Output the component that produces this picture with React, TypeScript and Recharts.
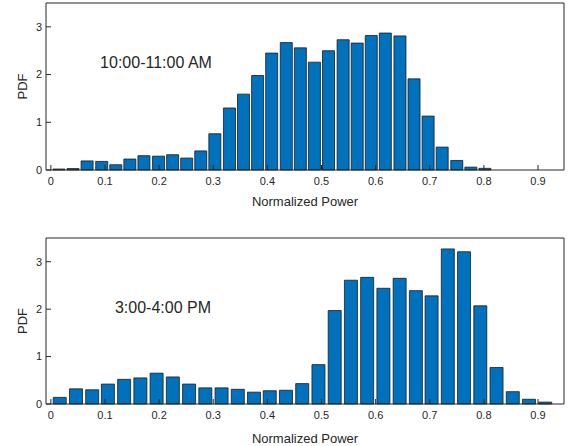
import React from 'react';
import { BarChart, Bar, XAxis, YAxis } from 'recharts';

// bin centres and pdf heights
const amBins = [
  0.015, 0.041, 0.067, 0.094, 0.12, 0.146, 0.172, 0.199, 0.225, 0.251, 0.277,
  0.303, 0.33, 0.356, 0.382, 0.408, 0.435, 0.461, 0.487, 0.513, 0.54, 0.566,
  0.592, 0.618, 0.645, 0.671, 0.697, 0.723, 0.75, 0.776, 0.802,
];
const amPdf = [
  0.02, 0.03, 0.19, 0.18, 0.11, 0.23, 0.3, 0.29, 0.32, 0.25, 0.4,
  0.76, 1.3, 1.59, 1.98, 2.45, 2.67, 2.56, 2.26, 2.5, 2.73, 2.66,
  2.82, 2.87, 2.81, 1.91, 1.13, 0.48, 0.2, 0.06, 0.035,
];

const pmBins = [
  0.017, 0.047, 0.077, 0.106, 0.136, 0.166, 0.196, 0.226, 0.256, 0.286, 0.316,
  0.346, 0.376, 0.405, 0.435, 0.465, 0.495, 0.525, 0.555, 0.585, 0.615, 0.645,
  0.675, 0.704, 0.734, 0.764, 0.794, 0.824, 0.854, 0.884, 0.914,
];
const pmPdf = [
  0.14, 0.32, 0.3, 0.42, 0.52, 0.55, 0.65, 0.57, 0.42, 0.34, 0.34,
  0.31, 0.25, 0.28, 0.29, 0.43, 0.83, 1.97, 2.61, 2.67, 2.44, 2.65,
  2.39, 2.28, 3.27, 3.21, 2.07, 0.77, 0.26, 0.1, 0.04,
];

const xTicks = [0, 0.1, 0.2, 0.3, 0.4, 0.5, 0.6, 0.7, 0.8, 0.9];
const yTicks = [0, 1, 2, 3];

const amData = amBins.map((x, i) => ({ x, pdf: amPdf[i] }));
const pmData = pmBins.map((x, i) => ({ x, pdf: pmPdf[i] }));

const ink = '#262626';
const font = 'Liberation Sans, Arial, sans-serif';
const tickStyle = { fontSize: 11, fill: ink, fontFamily: font };
const xDomain = [-0.009, 0.948];

function Hist({ data, height, top, xAxisHeight, labelOffset, barSize }: any) {
  return (
    <BarChart width={571} height={height} data={data} margin={{ top, right: 6, left: 0, bottom: 0 }}>
      <XAxis
        dataKey="x"
        type="number"
        domain={xDomain}
        ticks={xTicks}
        allowDataOverflow
        height={xAxisHeight}
        stroke={ink}
        tickSize={-5}
        tickMargin={12}
        tick={tickStyle}
        label={{ value: 'Normalized Power', position: 'insideBottom', offset: labelOffset, style: { fontSize: 13, fill: ink, fontFamily: font } }}
      />
      <XAxis xAxisId="top" orientation="top" type="number" domain={xDomain} ticks={xTicks} allowDataOverflow height={1} stroke={ink} tickSize={-5} tick={false} />
      <YAxis
        type="number"
        domain={[0, 3.5]}
        ticks={yTicks}
        width={46}
        stroke={ink}
        tickSize={-5}
        tickMargin={9}
        tick={tickStyle}
        label={{ value: 'PDF', angle: -90, position: 'insideLeft', offset: 22, style: { textAnchor: 'middle', fontSize: 13, fill: ink, fontFamily: font } }}
      />
      <YAxis yAxisId="right" orientation="right" type="number" domain={[0, 3.5]} ticks={yTicks} width={1} stroke={ink} tickSize={-5} tick={false} />
      <Bar dataKey="pdf" fill="#0072BD" stroke="#1a1a1a" strokeWidth={0.8} barSize={barSize} isAnimationActive={false} />
    </BarChart>
  );
}

const noteStyle: React.CSSProperties = {
  position: 'absolute',
  transform: 'translate(-50%, -50%)',
  fontFamily: font,
  fontSize: 16,
  color: ink,
  lineHeight: 1,
  whiteSpace: 'nowrap',
};

export default function App() {
  return (
    <div style={{ position: 'absolute', left: 0, top: 0, width: 571, height: 446, background: '#fff' }}>
      <div style={{ position: 'absolute', left: 0, top: 0 }}>
        <Hist data={amData} height={220} top={2} xAxisHeight={50} labelOffset={14} barSize={12} />
      </div>
      <div style={{ position: 'absolute', left: 0, top: 220 }}>
        <Hist data={pmData} height={226} top={17} xAxisHeight={42} labelOffset={3} barSize={13} />
      </div>
      <div style={{ ...noteStyle, left: 156, top: 63 }}>10:00-11:00 AM</div>
      <div style={{ ...noteStyle, left: 163, top: 308 }}>3:00-4:00 PM</div>
    </div>
  );
}
